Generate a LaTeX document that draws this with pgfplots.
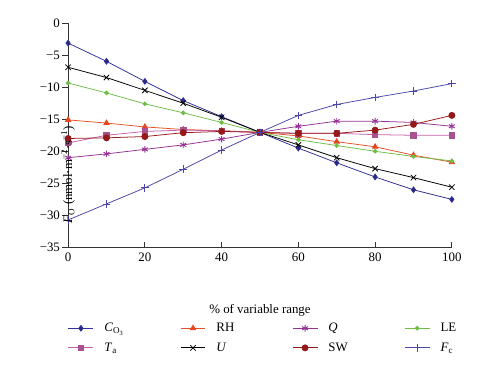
\documentclass[border=0pt]{standalone}
\usepackage{pgfplots}
\pgfplotsset{compat=1.18}
\usepackage{fontspec}
\setmainfont{Liberation Serif}
\definecolor{cco}{RGB}{50,48,150}
\definecolor{crh}{RGB}{228,80,38}
\definecolor{cq}{RGB}{150,50,150}
\definecolor{cle}{RGB}{110,190,70}
\definecolor{cta}{RGB}{200,95,170}
\definecolor{csw}{RGB}{150,25,25}
\definecolor{cfc}{RGB}{75,70,170}
\begin{document}
\begin{tikzpicture}
\begin{axis}[
  scale only axis, width=400bp, height=234bp,
  xmin=0, xmax=100, ymin=-35, ymax=0,
  axis x line*=bottom, axis y line*=left,
  axis line style={draw=black!80, line width=0.8pt},
  xtick={0,20,...,100}, xticklabels={0,20,40,60,80,100},
  ytick={-35,-30,...,0}, yticklabels={−35,−30,−25,−20,−15,−10,−5,0},
  major tick length=6bp,
  tick style={draw=black!80, line width=0.8pt},
  ytick style={xshift=-6bp},
  yticklabel style={xshift=-5bp},
  xticklabel style={yshift=-2bp},
  font=\fontsize{13.5}{16}\selectfont,
  clip=false,
  xlabel={\% of variable range},
  xlabel style={at={(axis description cs:0.5,0)}, anchor=center, yshift=-65bp},
  ylabel={\textit{F}\textsubscript{O} (nmol·m\textsuperscript{−2}·s\textsuperscript{−1})},
  ylabel style={at={(axis description cs:0,0.5)}, anchor=center, rotate=0, xshift=-41bp},
  legend columns=4,
  legend image code/.code={\draw[mark repeat=2,mark phase=2,#1] plot coordinates {(0bp,0bp)(13bp,0bp)(26bp,0bp)};},
  legend style={draw=none, fill=none, inner sep=0pt, outer sep=0pt,
    at={(axis description cs:0,0)}, anchor=north west, yshift=-77bp,
    row sep=6bp, column sep=0pt,
    nodes={inner sep=2bp},
    /tikz/every odd column/.append style={column sep=9bp},
    /tikz/every even column/.append style={column sep=17bp}},
  every axis plot/.append style={line width=0.8pt},
]
\addplot[cco, mark=diamond*, mark size=3, mark options={fill=cco!85!black}] coordinates {
(0,-3.13)(10,-5.97)(20,-9.1)(30,-12.1)(40,-14.6)(50,-17.05)(60,-19.5)(70,-21.8)(80,-24.0)(90,-26.0)(100,-27.5)};
\addlegendentry{\makebox[60bp][l]{\textit{C}\textsubscript{O\textsubscript{3}}}}
\addplot[crh, mark=triangle*, mark size=3.2, mark options={fill=crh!85!red, draw=crh!85!red}] coordinates {
(0,-15.1)(10,-15.6)(20,-16.2)(30,-16.6)(40,-16.8)(50,-17.05)(60,-17.6)(70,-18.5)(80,-19.3)(90,-20.6)(100,-21.7)};
\addlegendentry{\makebox[60bp][l]{RH}}
\addplot[cq, mark=asterisk, mark size=3.5, mark options={line width=1pt}] coordinates {
(0,-21.0)(10,-20.4)(20,-19.7)(30,-19.0)(40,-18.1)(50,-17.05)(60,-16.1)(70,-15.3)(80,-15.3)(90,-15.5)(100,-16.1)};
\addlegendentry{\makebox[60bp][l]{\textit{Q}}}
\addplot[cle, mark=*, mark size=2, mark options={fill=cle}] coordinates {
(0,-9.35)(10,-10.9)(20,-12.6)(30,-14.0)(40,-15.5)(50,-17.05)(60,-18.2)(70,-19.1)(80,-20.0)(90,-20.8)(100,-21.5)};
\addlegendentry{\makebox[60bp][l]{LE}}
\addplot[cta, mark=square*, mark size=2.8, mark options={fill=cta!85!black, draw=cta!85!black}] coordinates {
(0,-18.7)(10,-17.5)(20,-16.9)(30,-16.7)(40,-16.8)(50,-17.05)(60,-17.2)(70,-17.2)(80,-17.4)(90,-17.5)(100,-17.5)};
\addlegendentry{\makebox[60bp][l]{\textit{T}\textsubscript{a}}}
\addplot[black, mark=x, mark size=4] coordinates {
(0,-6.9)(10,-8.5)(20,-10.5)(30,-12.5)(40,-14.7)(50,-17.05)(60,-19.0)(70,-21.0)(80,-22.7)(90,-24.1)(100,-25.6)};
\addlegendentry{\makebox[60bp][l]{\textit{U}}}
\addplot[csw, mark=*, mark size=3.2, mark options={fill=csw}] coordinates {
(0,-18.0)(10,-17.9)(20,-17.7)(30,-17.1)(40,-16.9)(50,-17.05)(60,-17.2)(70,-17.2)(80,-16.7)(90,-15.8)(100,-14.4)};
\addlegendentry{\makebox[60bp][l]{SW}}
\addplot[cfc, mark=+, mark size=4] coordinates {
(0,-30.7)(10,-28.2)(20,-25.7)(30,-22.8)(40,-19.8)(50,-17.05)(60,-14.4)(70,-12.7)(80,-11.6)(90,-10.6)(100,-9.45)};
\addlegendentry{\makebox[60bp][l]{\textit{F}\textsubscript{c}}}
\end{axis}
\path (current axis.south west) ++(-71bp,-125bp) rectangle ++(500bp,383bp);
\end{tikzpicture}
\end{document}
